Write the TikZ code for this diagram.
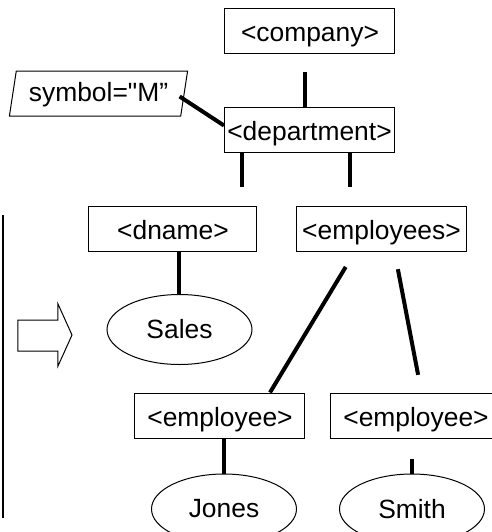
\documentclass[tikz,border=0pt]{standalone}
\usepackage{fontspec}
\setmainfont{Liberation Sans}[Ligatures=TeXOff]
\usetikzlibrary{shapes.geometric}
\usetikzlibrary{calc,positioning}

\begin{document}
\begin{tikzpicture}[x=0.5pt, y=-0.5pt,
  tag/.style = {rectangle, draw, line width=0.5pt, inner sep=0, minimum width=85pt, minimum height=22.5pt, text height=11pt, text depth=0pt, font=\fontsize{13.2pt}{15pt}\selectfont},
  val/.style = {ellipse, draw, line width=0.5pt, inner sep=0, minimum width=72.5pt, minimum height=35pt, font=\fontsize{13.2pt}{15pt}\selectfont},
  attr/.style = {trapezium, trapezium left angle=70, trapezium right angle=110, trapezium stretches=true, draw, line width=0.5pt, inner sep=0, minimum width=89.5pt, minimum height=22.5pt, text height=8pt, text depth=0pt, font=\fontsize{13.2pt}{15pt}\selectfont},
  link/.style = {line width=2pt}]

\useasboundingbox (0,0) rectangle (492,532);
\clip (0,0) rectangle (492,532);

\node[tag](company) at (310,30.5){<company>};
\node[tag](department) at (309.5,129.5){<department>};
\node[attr](symbol) at (98.5,93.5){symbol="M”};
\node[tag, minimum width=84pt](dname) at (173,228.5){<dname>};
\node[tag](employees) at (381.5,228.5){<employees>};
\node[val](sales) at (179.5,329.5){Sales};
\node[tag](employee1) at (220,415.5){<employee>};
\node[tag](employee2) at (416,415.5){<employee>};
\node[val](jones) at (224,509){Jones};
\node[val](smith) at (412,509){Smith};

% left margin mark and arrow
\draw[line width=0.9pt] (3,215) -- (3,518);
\draw[line width=0.5pt] (18,320) -- (58,320) -- (58,304) -- (72,335) -- (58,366) -- (58,351) -- (18,351) -- cycle;

\draw [link, shorten <=9] ($(company.south)+(-5,0)$) to ($(department.north)+(-4.5,0)$);
\draw [link] ($(symbol.east)+(-5,3)$) to ($(department.west)+(0,-4)$);
\draw [link, shorten >=10] ($(department.south)+(-67.5,0)$) to ($(department.south)+(-67.5,54)$);
\draw [link, shorten >=10] ($(department.south)+(40.5,0)$) to ($(department.south)+(40.5,54)$);
\draw [link] (dname.south -| sales.north) to (sales.north);
\draw [link, shorten <=9] ($(employees.south)+(-26.5,0)$) to ($(employee1.north)+(50,0)$);
\draw [link, shorten <=9, shorten >=9] ($(employees.south)+(13,0)$) to ($(employee2.north)+(5.5,0)$);
\draw [link] (employee1.south -| jones.north) to (jones.north);
\draw [link, shorten <=10] (employee2.south -| smith.north) to (smith.north);

\end{tikzpicture}
\end{document}
